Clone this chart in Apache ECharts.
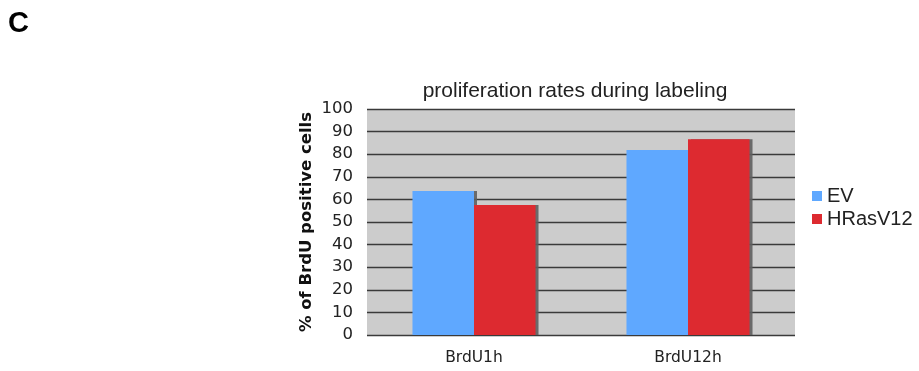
<!DOCTYPE html>
<html>
<head>
<meta charset="utf-8">
<script src="https://cdn.jsdelivr.net/npm/echarts@6/dist/echarts.min.js"></script>
<style>
  html, body { margin: 0; padding: 0; background: #fff; }
  #chart { width: 919px; height: 371px; }
</style>
</head>
<body>
<div id="chart"></div>
<script>
// Proliferation (BrdU incorporation) per labeling time
const categories = ['BrdU1h', 'BrdU12h'];
const evValues = [63.7, 81.9];
const hrasValues = [57.5, 86.6];
const yTicks = [0, 10, 20, 30, 40, 50, 60, 70, 80, 90, 100];

const font = 'Verdana, "DejaVu Sans", sans-serif';
const sans = 'Arial, "Liberation Sans", sans-serif';
const barShadow = {
  shadowColor: 'rgba(95,95,95,0.9)',
  shadowBlur: 0,
  shadowOffsetX: 3,
  shadowOffsetY: 0
};

const chart = echarts.init(document.getElementById('chart'));
chart.setOption({
  animation: false,
  title: [
    {
      text: 'proliferation rates during labeling',
      left: 570, top: 76, textAlign: 'center',
      textStyle: { fontFamily: sans, fontSize: 21, fontWeight: 'normal', color: '#222' }
    },
    {
      text: 'C',
      left: 3, top: 4,
      textStyle: { fontFamily: sans, fontSize: 29, fontWeight: 'bold', color: '#000' }
    }
  ],
  legend: {
    orient: 'vertical',
    left: 807, top: 181,
    icon: 'rect',
    itemWidth: 10, itemHeight: 10, itemGap: 3,
    textStyle: { fontFamily: sans, fontSize: 20, color: '#222' },
    data: ['EV', 'HRasV12']
  },
  grid: { left: 367, right: 124, top: 109, bottom: 36 },
  xAxis: {
    type: 'category',
    data: categories,
    axisLine: { show: false },
    axisTick: { show: false },
    axisLabel: { fontFamily: font, fontSize: 15.5, color: '#222', margin: 15 }
  },
  yAxis: {
    type: 'value',
    min: yTicks[0], max: yTicks[yTicks.length - 1], interval: 10,
    name: '% of BrdU positive cells',
    nameLocation: 'middle',
    nameGap: 52,
    nameTextStyle: { fontFamily: font, fontSize: 16.5, fontWeight: 'bold', color: '#111' },
    axisLine: { show: false },
    axisTick: { show: false },
    axisLabel: { fontFamily: font, fontSize: 16.5, color: '#222', margin: 14 },
    splitLine: { lineStyle: { color: '#3a3a3a', width: 1.3 } },
    splitArea: { show: true, areaStyle: { color: ['#cccccc', '#cccccc'] } }
  },
  series: [
    {
      name: 'EV', type: 'bar', data: evValues,
      barGap: '0%', barCategoryGap: '42.5%',
      itemStyle: Object.assign({ color: '#5fa8ff' }, barShadow)
    },
    {
      name: 'HRasV12', type: 'bar', data: hrasValues,
      itemStyle: Object.assign({ color: '#dd2a30' }, barShadow)
    }
  ]
});
</script>
</body>
</html>
